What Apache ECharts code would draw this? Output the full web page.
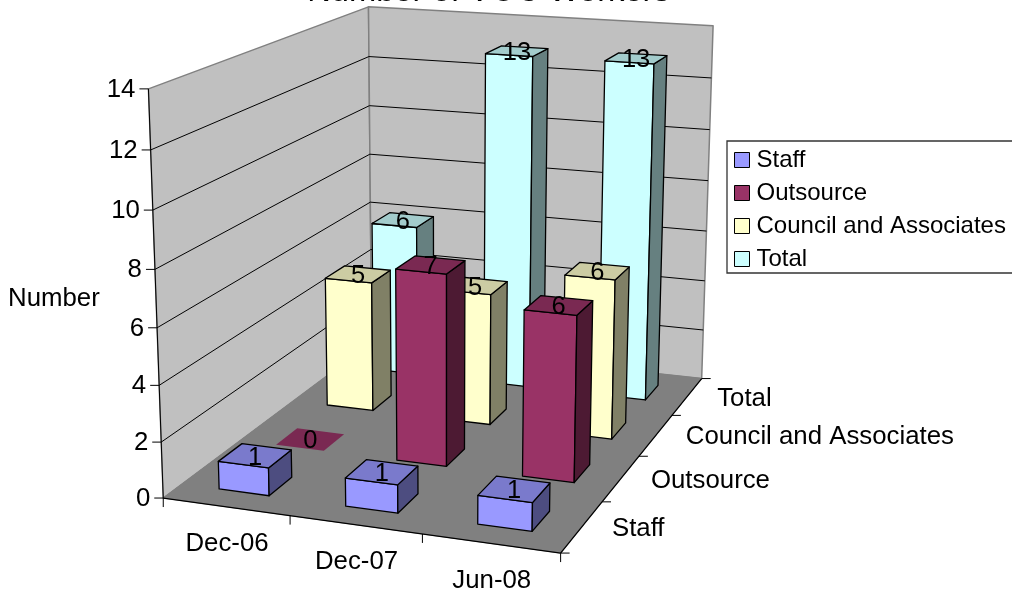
<!DOCTYPE html>
<html>
<head>
<meta charset="utf-8">
<style>html,body{margin:0;padding:0;background:#fff;overflow:hidden}#chart{width:1012px;height:596px}</style>
<script src="https://cdn.jsdelivr.net/npm/echarts@6/dist/echarts.min.js"></script>
</head>
<body>
<div id="chart"></div>
<script>
const chartTitle = 'Number of VOC Workers';
const yAxisName = 'Number';
const categories = ['Dec-06', 'Dec-07', 'Jun-08'];
const seriesNames = ['Staff', 'Outsource', 'Council and Associates', 'Total'];
const staff = [1, 1, 1];
const outsource = [0, 7, 6];
const council = [5, 5, 6];
const total = [6, 13, 13];
const seriesValues = [staff, outsource, council, total];
const seriesColors = ['#9999FF', '#993366', '#FFFFCC', '#CCFFFF'];
const yTicks = [0, 2, 4, 6, 8, 10, 12, 14];
const yMax = 14;

const FONT = '"Liberation Sans", Arial, sans-serif';
const AXIS_FS = 25.8;
const G = { left: 0, top: 0, width: 300, height: 140 };
const BAR_FRACTION = 0.4;

// Camera calibration: corners of the unit box (u across, t up, w deep) -> screen
const calib = [
  [0, 0, 0, 163.3, 497.7], [0, 1, 0, 148.3, 89], [1, 0, 0, 560.7, 553.3],
  [0, 0, 1, 371.5, 343], [0, 1, 1, 368.7, 6.7], [1, 0, 1, 701.7, 378.3], [1, 1, 1, 713, 25.7]
];
function solveCamera(pts) {
  const rows = [], rhs = [];
  pts.forEach(([X, Y, Z, x, y]) => {
    rows.push([X, Y, Z, 1, 0, 0, 0, 0, -x * X, -x * Y, -x * Z]); rhs.push(x);
    rows.push([0, 0, 0, 0, X, Y, Z, 1, -y * X, -y * Y, -y * Z]); rhs.push(y);
  });
  const n = 11, A = [];
  for (let i = 0; i < n; i++) {
    A.push(new Array(n + 1).fill(0));
    for (let j = 0; j < n; j++) rows.forEach(r => { A[i][j] += r[i] * r[j]; });
    rows.forEach((r, k) => { A[i][n] += r[i] * rhs[k]; });
  }
  for (let c = 0; c < n; c++) {
    let p = c;
    for (let r = c + 1; r < n; r++) if (Math.abs(A[r][c]) > Math.abs(A[p][c])) p = r;
    [A[c], A[p]] = [A[p], A[c]];
    for (let r = 0; r < n; r++) {
      if (r === c) continue;
      const f = A[r][c] / A[c][c];
      for (let k = c; k <= n; k++) A[r][k] -= f * A[c][k];
    }
  }
  return A.map((r, i) => r[n] / r[i]);
}
const M = solveCamera(calib);
function proj(u, t, w) {
  const d = M[8] * u + M[9] * t + M[10] * w + 1;
  return [(M[0] * u + M[1] * t + M[2] * w + M[3]) / d, (M[4] * u + M[5] * t + M[6] * w + M[7]) / d];
}
function shade(hex, k) {
  const n = parseInt(hex.slice(1), 16);
  const c = s => Math.round(((n >> s) & 255) * k);
  return 'rgb(' + c(16) + ',' + c(8) + ',' + c(0) + ')';
}
const uOf = px => (px - G.left) / G.width;
const tOf = py => (G.top + G.height - py) / G.height;
const poly = (points, fill, stroke, lw) => ({ type: 'polygon', shape: { points }, style: { fill, stroke, lineWidth: lw, lineJoin: 'round' } });
const line = (a, b, stroke, lw) => ({ type: 'line', shape: { x1: a[0], y1: a[1], x2: b[0], y2: b[1] }, style: { stroke, lineWidth: lw, fill: null } });
const label = (text, x, y, align, fs) => ({ type: 'text', style: { text, x, y, align, verticalAlign: 'middle', fontSize: fs || AXIS_FS, fontFamily: FONT, fill: '#000' } });

function renderFrame(params, api) {
  if (params.dataIndex !== 0) return null;
  const c = [];
  const b00 = proj(0, 0, 0), t00 = proj(0, 1, 0), b10 = proj(1, 0, 0), b01 = proj(0, 0, 1), t01 = proj(0, 1, 1), b11 = proj(1, 0, 1), t11 = proj(1, 1, 1);
  c.push(poly([b00, t00, t01, b01], '#C0C0C0', '#808080', 1.5));
  c.push(poly([b01, t01, t11, b11], '#C0C0C0', '#808080', 1.5));
  c.push(poly([b00, b10, b11, b01], '#808080', '#808080', 1));
  yTicks.forEach(v => {
    const t = tOf(api.coord([0, v])[1]);
    const a = proj(0, t, 0), m = proj(0, t, 1), r = proj(1, t, 1);
    if (v > 0 && v < yMax) { c.push(line(a, m, '#000', 1)); c.push(line(m, r, '#000', 1)); }
    c.push(line(a, [a[0] - 9, a[1]], '#000', 1));
    c.push(label(String(v), a[0] - 13, a[1] + 1, 'right'));
  });
  c.push(line(b00, t00, '#000', 1));
  c.push(line(b00, b10, '#000', 1.3));
  c.push(line(b10, b11, '#000', 1.3));
  const catN = categories.length, serN = seriesNames.length;
  for (let i = 0; i <= catN; i++) {
    const p = proj(i / catN, 0, 0);
    c.push(line(p, [p[0], p[1] + 9], '#000', 1));
  }
  categories.forEach((name, i) => {
    const p = proj((i + 0.5) / catN, 0, 0);
    c.push(label(name, p[0] + 1, p[1] + 37, 'center'));
  });
  for (let i = 0; i <= serN; i++) {
    const p = proj(1, 0, i / serN);
    c.push(line(p, [p[0] + 9, p[1]], '#000', 1));
  }
  seriesNames.forEach((name, i) => {
    const p = proj(1, 0, (i + 0.5) / serN);
    c.push(label(name, p[0] + 30, p[1] + 2, 'left'));
  });
  c.push(label(yAxisName, 8, 299, 'left'));
  c.push({ type: 'text', style: { text: chartTitle, x: 488.5, y: 8, align: 'center', verticalAlign: 'bottom', fontSize: 32.7, fontFamily: FONT, fill: '#000' } });
  return { type: 'group', children: c };
}

function renderBar(sIdx) {
  return function (params, api) {
    const val = api.value(1);
    const p = api.coord([api.value(0), val]);
    const band = api.size([1, 0])[0] / G.width;
    const um = uOf(p[0]), t = tOf(p[1]);
    const u0 = um - band * BAR_FRACTION / 2, u1 = um + band * BAR_FRACTION / 2;
    const dw = 1 / seriesNames.length;
    const w0 = (sIdx + 0.5 - BAR_FRACTION / 2) * dw, w1 = (sIdx + 0.5 + BAR_FRACTION / 2) * dw;
    const col = seriesColors[sIdx];
    const c = [];
    if (val > 0) {
      c.push(poly([proj(u0, 0, w0), proj(u1, 0, w0), proj(u1, t, w0), proj(u0, t, w0)], col, '#000', 1.3));
      c.push(poly([proj(u1, 0, w0), proj(u1, 0, w1), proj(u1, t, w1), proj(u1, t, w0)], shade(col, 0.5), '#000', 1.3));
    }
    c.push(poly([proj(u0, t, w0), proj(u1, t, w0), proj(u1, t, w1), proj(u0, t, w1)], shade(col, 0.8), val > 0 ? '#000' : 'none', 1.3));
    const mid = proj(um, t, (w0 + w1) / 2);
    c.push(label(String(val), mid[0], mid[1] + 2, 'center', 25.5));
    return { type: 'group', children: c };
  };
}

const barSeries = seriesNames.map((name, s) => ({
  name, type: 'custom', z: 10 - s, silent: true,
  coordinateSystem: 'cartesian2d',
  itemStyle: { color: seriesColors[s] },
  encode: { x: 0, y: 1 },
  data: categories.map((c, i) => [c, seriesValues[s][i]]),
  renderItem: renderBar(s)
}));

const chart = echarts.init(document.getElementById('chart'), null, { renderer: 'canvas' });
chart.setOption({
  animation: false,
  backgroundColor: '#fff',
  grid: G,
  xAxis: { type: 'category', data: categories, show: false },
  yAxis: { type: 'value', min: 0, max: yMax, interval: 2, show: false },
  legend: {
    orient: 'vertical', left: 727, top: 141, data: seriesNames, padding: [5, 14, 0, 7], itemGap: 5,
    itemWidth: 15, itemHeight: 15, icon: 'rect', borderColor: '#333', borderWidth: 1.3, backgroundColor: '#fff',
    selectedMode: false, itemStyle: { borderColor: '#000', borderWidth: 1 },
    textStyle: { fontFamily: FONT, fontSize: 24, color: '#000', padding: [0, 0, 0, 2], lineHeight: 28 }
  },
  series: [{
    type: 'custom', z: 1, silent: true, coordinateSystem: 'cartesian2d', encode: { x: 0, y: 1 },
    data: [[categories[0], 0]], renderItem: renderFrame
  }].concat(barSeries)
});
</script>
</body>
</html>
